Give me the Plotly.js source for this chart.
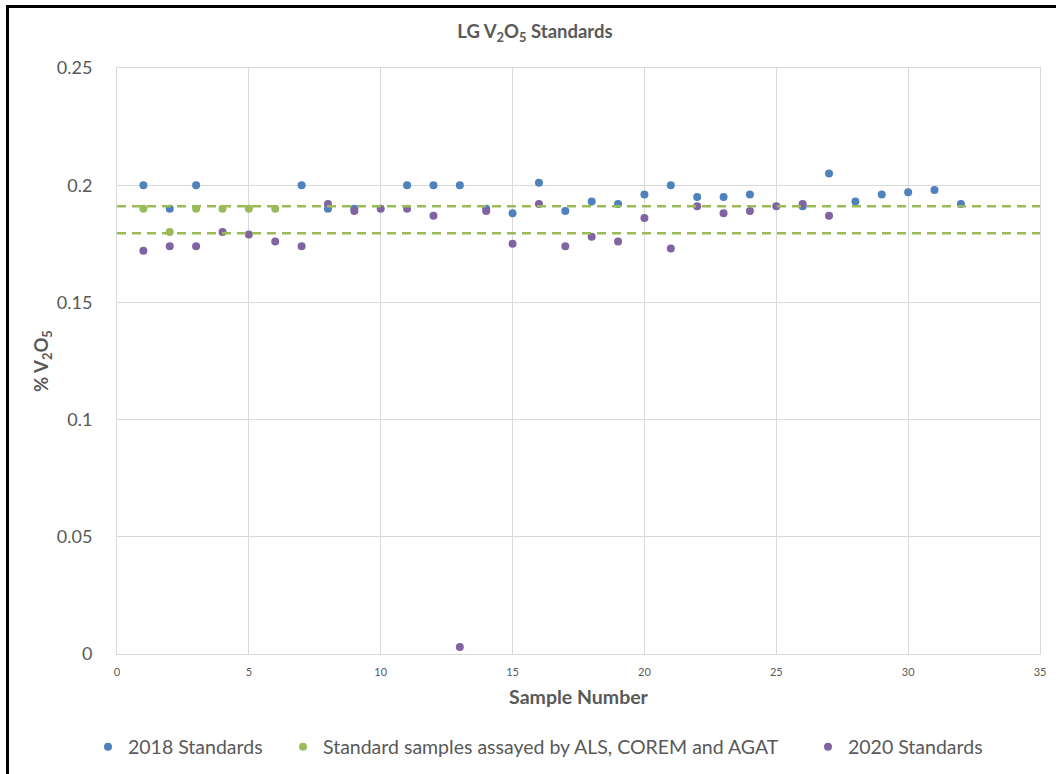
<!DOCTYPE html>
<html>
<head>
<meta charset="utf-8">
<script src="https://cdn.plot.ly/plotly-3.0.1.min.js"></script>
<style>
  html, body { margin: 0; padding: 0; background: #ffffff; }
  #wrap { position: relative; width: 1056px; height: 774px; overflow: hidden; }
  #frame { position: absolute; left: 6px; top: 5px; width: 1100px; height: 800px;
           border-top: 3px solid #000; border-left: 3px solid #000; pointer-events: none; z-index: 5; }
  #chart { position: absolute; left: 0; top: 0; width: 1056px; height: 774px; }
</style>
</head>
<body>
<div id="wrap">
  <div id="chart"></div>
  <div id="frame"></div>
</div>
<script>
// 2018 Standards
const x2018 = [1, 2, 3, 7, 8, 9, 11, 12, 13, 14, 15, 16, 17, 18, 19, 20, 21, 22, 23, 24, 26, 27, 28, 29, 30, 31, 32];
const y2018 = [0.200, 0.190, 0.200, 0.200, 0.190, 0.190, 0.200, 0.200, 0.200, 0.190, 0.188, 0.201, 0.189, 0.193, 0.192, 0.196, 0.200, 0.195, 0.195, 0.196, 0.191, 0.205, 0.193, 0.196, 0.197, 0.198, 0.192];

// Standard samples assayed by ALS, COREM and AGAT
const xLab = [1, 2, 3, 4, 5, 6];
const yLab = [0.190, 0.180, 0.190, 0.190, 0.190, 0.190];

// 2020 Standards
const x2020 = [1, 2, 3, 4, 5, 6, 7, 8, 9, 10, 11, 12, 13, 14, 15, 16, 17, 18, 19, 20, 21, 22, 23, 24, 25, 26, 27];
const y2020 = [0.172, 0.174, 0.174, 0.180, 0.179, 0.176, 0.174, 0.192, 0.189, 0.190, 0.190, 0.187, 0.003, 0.189, 0.175, 0.192, 0.174, 0.178, 0.176, 0.186, 0.173, 0.191, 0.188, 0.189, 0.191, 0.192, 0.187];

// Reference limits (dashed lines)
const limits = [0.191, 0.1795];

const names = ['2018 Standards', 'Standard samples assayed by ALS, COREM and AGAT', '2020 Standards'];
const colors = ['#4F81BD', '#9BBB59', '#8064A2'];

const FONT = 'Lato, "Open Sans", "Liberation Sans", sans-serif';
const GREY = '#595959';

const traces = [
  { x: x2018, y: y2018, name: names[0], type: 'scatter', mode: 'markers',
    marker: { color: colors[0], size: 8 }, legend: 'legend' },
  { x: xLab, y: yLab, name: names[1], type: 'scatter', mode: 'markers',
    marker: { color: colors[1], size: 8 }, legend: 'legend2' },
  { x: x2020, y: y2020, name: names[2], type: 'scatter', mode: 'markers',
    marker: { color: colors[2], size: 8 }, legend: 'legend3' }
];

const shapes = limits.map(v => ({
  type: 'line', xref: 'paper', x0: 0, x1: 1, yref: 'y', y0: v, y1: v,
  layer: 'above', line: { color: '#9BBB59', width: 2.5, dash: '9px,6px' }
}));

function leg(xpx) {
  return {
    orientation: 'h', xref: 'container', yref: 'container',
    x: xpx / 1056, xanchor: 'left', y: 1 - 747 / 774, yanchor: 'middle',
    font: { family: FONT, size: 19.5, color: GREY },
    bgcolor: 'rgba(0,0,0,0)', itemwidth: 30
  };
}

const layout = {
  width: 1056, height: 774,
  margin: { l: 117, r: 16, t: 68, b: 120 },
  paper_bgcolor: '#ffffff', plot_bgcolor: '#ffffff',
  font: { family: FONT, color: GREY },
  showlegend: true,
  title: { text: '<b>LG V<sub>2</sub>O<sub>5</sub> Standards</b>', x: 535 / 1056, xref: 'container', xanchor: 'center',
           y: 1 - 32 / 774, yref: 'container', yanchor: 'middle',
           font: { family: FONT, size: 18.5, color: GREY } },
  xaxis: {
    range: [0, 35], dtick: 5, tick0: 0,
    showgrid: true, gridcolor: '#d9d9d9', gridwidth: 1,
    zeroline: false, showline: true, linecolor: '#d9d9d9', mirror: true,
    ticks: '', ticklabelstandoff: 8,
    tickfont: { family: FONT, size: 11, color: GREY },
    title: { text: '<b>Sample Number</b>', standoff: 13, font: { family: FONT, size: 19.5, color: GREY } }
  },
  yaxis: {
    range: [0, 0.25], dtick: 0.05, tick0: 0,
    showgrid: true, gridcolor: '#d9d9d9', gridwidth: 1,
    zeroline: false, showline: true, linecolor: '#d9d9d9', mirror: true,
    ticks: '', ticklabelstandoff: 20,
    tickfont: { family: FONT, size: 18, color: GREY },
    title: { text: '<b>% V<sub>2</sub>O<sub>5</sub></b>', standoff: 3, font: { family: FONT, size: 18.5, color: GREY } }
  },
  legend: leg(88),
  legend2: leg(283),
  legend3: leg(808),
  shapes: shapes
};

Plotly.newPlot('chart', traces, layout, { displayModeBar: false, staticPlot: true });
</script>
</body>
</html>
